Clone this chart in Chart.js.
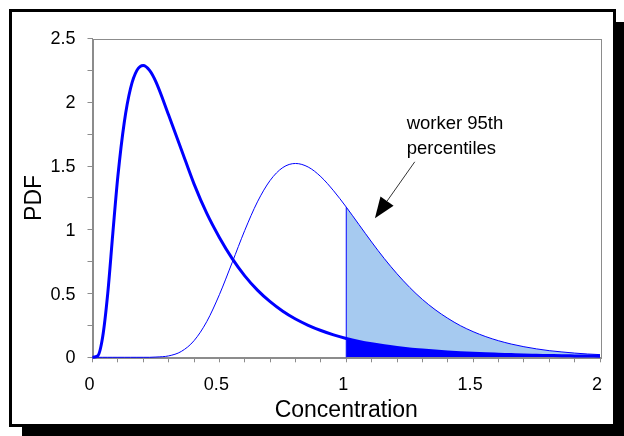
<!DOCTYPE html>
<html>
<head>
<meta charset="utf-8">
<script src="https://cdn.jsdelivr.net/npm/chart.js@4.4.1/dist/chart.umd.min.js"></script>
<style>
  html, body { margin: 0; padding: 0; background: #fff; overflow: hidden; }
  #frame {
    position: absolute; left: 9px; top: 9px; width: 607px; height: 418px;
    box-sizing: border-box; border: 3px solid #000; background: #fff;
    box-shadow: 13px 13px 0 #000;
  }
  #chart { position: absolute; left: 0; top: 0; }
</style>
</head>
<body>
<div id="frame"></div>
<canvas id="chart" width="624" height="436"></canvas>
<script>
const conc = [0, 0.02, 0.04, 0.06, 0.08, 0.1, 0.125, 0.15, 0.175, 0.2, 0.225, 0.25,
  0.3, 0.35, 0.4, 0.45, 0.5, 0.55, 0.6, 0.65, 0.7, 0.75, 0.8, 0.85, 0.9, 0.95,
  1.0, 1.05, 1.1, 1.15, 1.2, 1.25, 1.3, 1.35, 1.4, 1.45, 1.5, 1.55, 1.6, 1.65,
  1.7, 1.75, 1.8, 1.85, 1.9, 1.95, 2.0];

// thick curve (peak near 0.2)
const pdfLow = [0, 0.01, 0.16, 0.5, 0.97, 1.42, 1.84, 2.11, 2.25, 2.289, 2.25, 2.16,
  1.9, 1.63, 1.36, 1.13, 0.94, 0.776, 0.639, 0.527, 0.436, 0.361, 0.300, 0.251, 0.210, 0.176,
  0.148, 0.125, 0.106, 0.090, 0.077, 0.066, 0.057, 0.049, 0.042, 0.036, 0.031, 0.027, 0.024, 0.021,
  0.018, 0.016, 0.014, 0.012, 0.011, 0.010, 0.009];

// thin curve (peak near 0.8)
const pdfHigh = [0, 0, 0, 0, 0, 0, 0, 0, 0, 0, 0, 0.002,
  0.011, 0.046, 0.130, 0.279, 0.491, 0.741, 0.995, 1.219, 1.387, 1.488, 1.520, 1.492, 1.416, 1.306,
  1.178, 1.041, 0.904, 0.774, 0.655, 0.548, 0.454, 0.374, 0.306, 0.248, 0.201, 0.162, 0.130, 0.104,
  0.083, 0.066, 0.052, 0.042, 0.033, 0.026, 0.021];

const cutoff = 1.0;
const xLabels = [0, 0.5, 1, 1.5, 2];
const yLabels = [0, 0.5, 1, 1.5, 2, 2.5];
const noteLines = ['worker 95th', 'percentiles'];

const pts = (ys) => conc.map((x, i) => ({ x: x, y: ys[i] }));
const tail = (ys) => pts(ys).filter(p => p.x >= cutoff);

const FONT = "'Liberation Sans', Arial, sans-serif";
const GRAY = '#8c8c8c';
const BLUE = '#0000ff';

// box round the plot, axis titles and the arrow note
const extras = {
  id: 'extras',
  beforeDatasetsDraw(chart) {
    const a = chart.chartArea;
    const c = chart.ctx;
    c.save();
    c.strokeStyle = GRAY;
    c.lineWidth = 1;
    c.strokeRect(Math.round(a.left) + 0.5, Math.round(a.top) + 0.5,
      Math.round(a.right - a.left), Math.round(a.bottom - a.top));
    c.restore();
  },
  afterDraw(chart) {
    const a = chart.chartArea;
    const c = chart.ctx;
    const xs = chart.scales.x, ys = chart.scales.y;
    c.save();
    c.fillStyle = '#000';
    c.font = '23px ' + FONT;
    c.textAlign = 'center';
    c.textBaseline = 'alphabetic';
    c.fillText('Concentration', (a.left + a.right) / 2, 416.5);
    c.translate(41, (a.top + a.bottom) / 2);
    c.rotate(-Math.PI / 2);
    c.fillText('PDF', 0, 0);
    c.restore();

    // note text
    c.save();
    c.fillStyle = '#000';
    c.font = '18.5px ' + FONT;
    c.textAlign = 'left';
    const tx = xs.getPixelForValue(1.238);
    const ty = ys.getPixelForValue(1.788);
    noteLines.forEach((t, i) => c.fillText(t, tx, ty + i * 25));

    // arrow
    const x0 = xs.getPixelForValue(1.27), y0 = ys.getPixelForValue(1.533);
    const x1 = xs.getPixelForValue(1.113), y1 = ys.getPixelForValue(1.09);
    const ang = Math.atan2(y1 - y0, x1 - x0);
    const hl = 21, hw = 8;
    const bx = x1 - hl * Math.cos(ang), by = y1 - hl * Math.sin(ang);
    c.strokeStyle = '#333';
    c.lineWidth = 1;
    c.beginPath();
    c.moveTo(x0, y0);
    c.lineTo(bx, by);
    c.stroke();
    c.beginPath();
    c.moveTo(x1, y1);
    c.lineTo(bx + hw * Math.sin(ang), by - hw * Math.cos(ang));
    c.lineTo(bx - hw * Math.sin(ang), by + hw * Math.cos(ang));
    c.closePath();
    c.fill();
    c.restore();
  }
};

const near = (v, list) => list.some(l => Math.abs(l - v) < 1e-6);

new Chart(document.getElementById('chart'), {
  type: 'line',
  data: {
    datasets: [
      {
        data: pts(pdfLow), borderColor: BLUE, borderWidth: 3,
        fill: false, order: 1
      },
      {
        data: pts(pdfHigh), borderColor: BLUE, borderWidth: 1,
        fill: false, order: 2
      },
      {
        data: [{ x: cutoff, y: 0 }, { x: cutoff, y: pdfHigh[conc.indexOf(cutoff)] }],
        borderColor: BLUE, borderWidth: 1, fill: false, order: 3,
        cubicInterpolationMode: 'default', tension: 0
      },
      {
        data: tail(pdfLow), borderWidth: 0, borderColor: 'rgba(0,0,0,0)',
        backgroundColor: BLUE, fill: 'origin', order: 4
      },
      {
        data: tail(pdfHigh), borderWidth: 0, borderColor: 'rgba(0,0,0,0)',
        backgroundColor: '#a6caf0', fill: 'origin', order: 5
      }
    ]
  },
  options: {
    responsive: false,
    animation: false,
    devicePixelRatio: 1,
    layout: { padding: { top: 38.5, right: 24, left: 0, bottom: 0 } },
    elements: {
      point: { radius: 0, hoverRadius: 0 },
      line: { cubicInterpolationMode: 'monotone' }
    },
    datasets: { line: { clip: false } },
    plugins: {
      legend: { display: false },
      tooltip: { enabled: false }
    },
    scales: {
      x: {
        type: 'linear', min: 0, max: 2,
        afterFit: (s) => { s.height = 78.7; },
        grid: { drawOnChartArea: false, drawTicks: true, tickLength: 5, color: GRAY },
        border: { display: true, color: GRAY },
        ticks: {
          stepSize: 0.1, autoSkip: false, maxRotation: 0, minRotation: 0,
          padding: 12, labelOffset: -3, color: '#000',
          font: { family: FONT, size: 18 },
          callback: (v) => near(v, xLabels) ? String(+v.toFixed(2)) : ''
        }
      },
      y: {
        min: 0, max: 2.5,
        afterFit: (s) => { s.width = 92.5; },
        grid: { drawOnChartArea: false, drawTicks: true, tickLength: 5, color: GRAY },
        border: { display: true, color: GRAY },
        ticks: {
          stepSize: 0.25, autoSkip: false, padding: 12, labelOffset: 1, color: '#000',
          font: { family: FONT, size: 18 },
          callback: (v) => near(v, yLabels) ? String(+v.toFixed(2)) : ''
        }
      }
    }
  },
  plugins: [extras]
});
</script>
</body>
</html>
